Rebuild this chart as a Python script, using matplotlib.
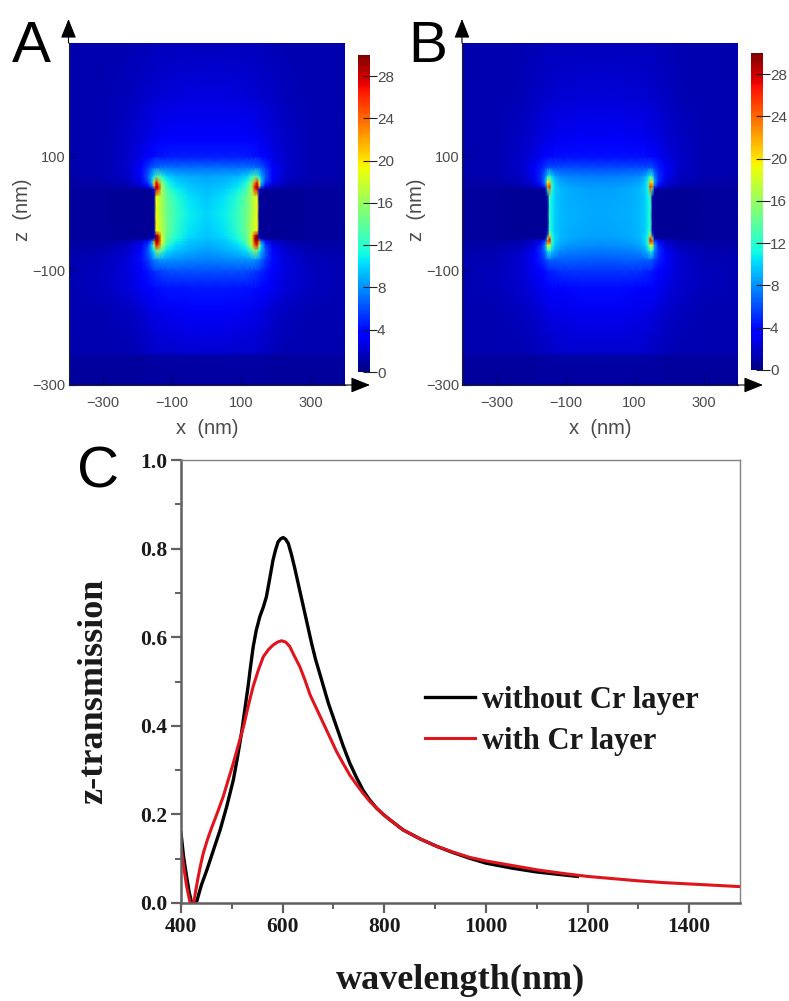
import numpy as np
import matplotlib
matplotlib.use("Agg")
import matplotlib.pyplot as plt
from matplotlib.patches import FancyArrowPatch

W, H = 789, 1001

# Field map nodes (half width in x; the maps are mirrored about x = 0)
x_half = [0, 50, 90, 115, 130, 140, 146, 152, 158, 170, 190, 230, 300, 400]
z_nodes = [300, 200, 130, 100, 80, 65, 55, 48, 43, 30, 0, -30, -38, -43, -48, -55, -65, -80,
           -100, -130, -170, -210, -243, -250, -300]

field_a = [
    [1.6, 1.6, 1.6, 1.6, 1.6, 1.6, 1.6, 1.6, 1.6, 1.5, 1.5, 1.4, 1.2, 1.2],
    [2.6, 2.6, 2.5, 2.4, 2.3, 2.3, 2.2, 2.2, 2.1, 2.0, 1.9, 1.6, 1.3, 1.2],
    [3.4, 3.4, 3.3, 3.3, 3.2, 3.2, 3.1, 3.0, 2.9, 2.7, 2.4, 1.9, 1.4, 1.2],
    [4.6, 4.6, 4.6, 4.5, 4.4, 4.3, 4.2, 4.0, 3.8, 3.4, 2.8, 1.9, 1.4, 1.2],
    [7.2, 7.2, 7.2, 7.3, 7.3, 7.3, 7.2, 7.0, 6.6, 5.5, 3.6, 2.0, 1.4, 1.2],
    [8.6, 8.8, 9.2, 10, 12, 14, 13, 11, 9, 6.5, 3.4, 1.8, 1.3, 1.1],
    [9.0, 9.3, 10, 11.5, 15, 23, 27, 20, 9.5, 5.2, 2.8, 1.6, 1.1, 1.0],
    [9.2, 9.6, 10.5, 12.5, 16.5, 27, 30, 22, 6.5, 3.5, 2.0, 1.3, 1.0, 1.0],
    [9.3, 9.8, 11, 13, 16.5, 26, 28, 4, 0.8, 0.7, 0.6, 0.7, 0.8, 0.9],
    [9.6, 10.4, 12, 14, 16.5, 18, 19, 1, 0.6, 0.6, 0.6, 0.7, 0.8, 0.9],
    [10, 10.8, 12.6, 14.5, 16.5, 18, 19, 0.8, 0.6, 0.6, 0.6, 0.7, 0.8, 0.9],
    [9.7, 10.5, 12.3, 14.5, 17, 18.5, 19.5, 1, 0.6, 0.6, 0.6, 0.7, 0.8, 0.9],
    [9.5, 10.2, 11.8, 14, 18, 27, 30, 2, 0.7, 0.6, 0.6, 0.7, 0.8, 0.9],
    [9.4, 10, 11.5, 13.8, 18.5, 29, 30, 4, 0.8, 0.7, 0.6, 0.7, 0.8, 0.9],
    [9.2, 9.7, 11, 13.4, 18.5, 28, 30, 24, 7, 4, 2.2, 1.4, 1.0, 1.0],
    [8.9, 9.3, 10.2, 12.2, 17, 25, 27, 17, 10, 5.5, 3.0, 1.7, 1.1, 1.0],
    [8.4, 8.8, 9.4, 10.4, 13, 15.5, 15, 11, 9, 6.4, 3.6, 2.0, 1.3, 1.1],
    [7.6, 7.8, 8, 8.2, 8.4, 8.4, 8.2, 7.8, 7, 5.6, 4, 2.4, 1.6, 1.3],
    [6.2, 6.2, 6.1, 6, 5.8, 5.6, 5.5, 5.2, 5, 4.4, 3.6, 2.4, 1.7, 1.3],
    [4.4, 4.4, 4.3, 4.3, 4.2, 4.1, 4, 3.9, 3.7, 3.4, 3, 2.3, 1.7, 1.3],
    [3.2, 3.2, 3.1, 3.0, 2.9, 2.8, 2.8, 2.7, 2.6, 2.4, 2.1, 1.7, 1.4, 1.3],
    [2.6, 2.6, 2.5, 2.4, 2.4, 2.3, 2.3, 2.2, 2.2, 2.0, 1.8, 1.5, 1.3, 1.2],
    [2.2, 2.2, 2.1, 2.1, 2.0, 2.0, 2.0, 1.9, 1.9, 1.8, 1.6, 1.4, 1.3, 1.2],
    [1.0, 1.0, 1.0, 1.0, 1.0, 1.0, 1.0, 1.0, 1.0, 1.0, 0.9, 0.9, 0.9, 0.9],
    [0.9, 0.9, 0.9, 0.9, 0.9, 0.9, 0.9, 0.9, 0.9, 0.9, 0.8, 0.8, 0.8, 0.8],
]

field_b = [
    [1.6, 1.6, 1.6, 1.6, 1.6, 1.6, 1.6, 1.6, 1.6, 1.5, 1.5, 1.4, 1.2, 1.2],
    [2.4, 2.4, 2.3, 2.3, 2.2, 2.2, 2.1, 2.1, 2.0, 1.9, 1.8, 1.5, 1.3, 1.2],
    [3.2, 3.2, 3.1, 3.1, 3.0, 2.9, 2.9, 2.8, 2.7, 2.5, 2.2, 1.8, 1.4, 1.2],
    [4.2, 4.2, 4.2, 4.1, 4.0, 3.9, 3.8, 3.7, 3.5, 3.1, 2.6, 1.9, 1.4, 1.2],
    [6.0, 6.0, 6.1, 6.1, 6.2, 6.3, 6.4, 6.2, 5.6, 4.6, 3.2, 1.9, 1.4, 1.2],
    [7.4, 7.5, 7.7, 7.9, 8.8, 10.5, 13, 11, 7.8, 5.2, 3.0, 1.7, 1.3, 1.1],
    [8.0, 8.1, 8.3, 8.7, 9.5, 12, 21, 19, 8.5, 4.6, 2.5, 1.5, 1.1, 1.0],
    [8.3, 8.4, 8.6, 9.0, 9.8, 12.5, 26, 24, 6, 3.2, 1.9, 1.3, 1.0, 1.0],
    [8.5, 8.6, 8.8, 9.2, 10, 12, 24, 12, 0.8, 0.7, 0.6, 0.7, 0.8, 0.9],
    [8.6, 8.7, 8.9, 9.2, 9.8, 11, 13, 1.5, 0.6, 0.6, 0.6, 0.7, 0.8, 0.9],
    [8.7, 8.8, 9.0, 9.3, 9.8, 10.8, 12.5, 1, 0.6, 0.6, 0.6, 0.7, 0.8, 0.9],
    [8.6, 8.7, 8.9, 9.2, 9.8, 11, 13, 1.5, 0.6, 0.6, 0.6, 0.7, 0.8, 0.9],
    [8.5, 8.6, 8.8, 9.2, 10, 12, 20, 6, 0.7, 0.6, 0.6, 0.7, 0.8, 0.9],
    [8.4, 8.5, 8.7, 9.1, 10, 12.5, 26, 14, 0.8, 0.7, 0.6, 0.7, 0.8, 0.9],
    [8.2, 8.3, 8.6, 9.0, 10, 13, 27, 25, 6, 3.2, 2.0, 1.3, 1.0, 1.0],
    [7.9, 8.0, 8.2, 8.6, 9.6, 12, 19, 18, 8.5, 4.6, 2.5, 1.5, 1.1, 1.0],
    [7.3, 7.4, 7.6, 7.9, 8.6, 10, 12.5, 11, 7.8, 5.2, 3.1, 1.8, 1.3, 1.1],
    [6.4, 6.5, 6.6, 6.6, 6.7, 6.8, 6.9, 6.5, 5.8, 4.8, 3.4, 2.2, 1.5, 1.3],
    [5.3, 5.3, 5.3, 5.2, 5.0, 4.8, 4.7, 4.5, 4.2, 3.7, 3.0, 2.2, 1.6, 1.3],
    [4.0, 4.0, 3.9, 3.8, 3.7, 3.6, 3.5, 3.4, 3.2, 3.0, 2.6, 2.0, 1.6, 1.3],
    [3.0, 3.0, 2.9, 2.8, 2.7, 2.7, 2.6, 2.6, 2.5, 2.3, 2.0, 1.7, 1.4, 1.3],
    [2.5, 2.5, 2.4, 2.3, 2.3, 2.2, 2.2, 2.1, 2.1, 1.9, 1.7, 1.5, 1.3, 1.2],
    [2.1, 2.1, 2.0, 2.0, 1.9, 1.9, 1.9, 1.8, 1.8, 1.7, 1.6, 1.4, 1.3, 1.2],
    [1.0, 1.0, 1.0, 1.0, 1.0, 1.0, 1.0, 1.0, 1.0, 1.0, 0.9, 0.9, 0.9, 0.9],
    [0.9, 0.9, 0.9, 0.9, 0.9, 0.9, 0.9, 0.9, 0.9, 0.9, 0.8, 0.8, 0.8, 0.8],
]

map_x_ticks = [-300, -100, 100, 300]
map_z_ticks = [-300, -100, 100]
cbar_ticks = [0, 4, 8, 12, 16, 20, 24, 28]

# Transmission spectra
wl_black = [400, 405, 411, 416, 421, 426, 431, 440, 451, 464, 477, 490, 503, 511, 519, 526, 532, 537, 542,
            548, 555, 562, 568, 575, 581, 586, 591, 596, 601, 606, 611, 617, 624, 632, 641,
            649, 657, 665, 674, 690, 706, 719, 732, 745, 758, 771, 785, 798, 811, 837, 870, 903, 935, 968,
            1000, 1050, 1100, 1140, 1180]
t_black = [0.158, 0.105, 0.06, 0.025, 0.0, 0.0, 0.004, 0.04, 0.075, 0.12, 0.165, 0.218, 0.278, 0.328,
           0.383, 0.44, 0.489, 0.535, 0.578, 0.615, 0.646, 0.668, 0.691, 0.735, 0.774, 0.797, 0.815,
           0.822, 0.825, 0.821, 0.812, 0.788, 0.755, 0.714, 0.668,
           0.627, 0.586, 0.549, 0.514, 0.451, 0.398, 0.355, 0.316, 0.284, 0.255, 0.233, 0.214, 0.2, 0.188,
           0.165, 0.145, 0.128, 0.114, 0.101, 0.09, 0.079, 0.07, 0.065, 0.06]
wl_red = [400, 405, 411, 418, 425, 429, 434, 439, 444, 452, 460, 472, 483, 493, 503, 513, 523, 532, 542, 552,
          562, 572, 581, 590, 598, 606, 614, 622, 634, 644, 654, 667, 680,
          693, 706, 719, 732, 745, 758, 771, 785, 798, 811, 837, 870, 903, 935, 968, 1000, 1050, 1100, 1150,
          1200, 1250, 1300, 1350, 1400, 1450, 1500]
t_red = [0.128, 0.085, 0.038, 0.0, 0.0, 0.028, 0.06, 0.088, 0.113, 0.143, 0.169, 0.205, 0.24, 0.278, 0.316,
         0.357, 0.398, 0.443, 0.489, 0.525, 0.556, 0.572, 0.582, 0.589, 0.592, 0.589, 0.579, 0.56, 0.533,
         0.503, 0.47, 0.438, 0.406,
         0.374, 0.342, 0.315, 0.289, 0.268, 0.248, 0.23, 0.214, 0.2, 0.188, 0.165, 0.145, 0.128, 0.115,
         0.103, 0.095, 0.085, 0.075, 0.067, 0.06, 0.055, 0.05, 0.046, 0.043, 0.04, 0.037]
spec_x_ticks = [400, 600, 800, 1000, 1200, 1400]
spec_y_ticks = [0.0, 0.2, 0.4, 0.6, 0.8, 1.0]

SERIF = "Liberation Serif"
SANS = "Liberation Sans"
GREY = "#4a4a4a"

fig = plt.figure(figsize=(W / 100, H / 100), dpi=100, facecolor="white")


def px_axes(l, t, r, b):
    return fig.add_axes([l / W, 1 - b / H, (r - l) / W, (b - t) / H])


def arrow(p0, p1):
    fig.add_artist(FancyArrowPatch(
        (p0[0] / W, 1 - p0[1] / H), (p1[0] / W, 1 - p1[1] / H), transform=fig.transFigure,
        arrowstyle="-|>,head_length=0.7,head_width=0.28", mutation_scale=17, color="black",
        lw=0.8, shrinkA=0, shrinkB=0))


def draw_map(field, l, r, top, bot, cl, cr, ct, cb, letter, lx):
    ax = px_axes(l, top, r, bot)
    half = np.array(field, dtype=float)
    xs = np.array(x_half, dtype=float)
    x_full = np.concatenate([-xs[:0:-1], xs])
    vals = np.hstack([half[:, :0:-1], half])
    mesh = ax.pcolormesh(x_full, np.array(z_nodes, dtype=float), vals, cmap="jet",
                         vmin=0, vmax=30, shading="gouraud")
    ax.set_xlim(-400, 400)
    ax.set_ylim(-300, 300)
    ax.set_xticks(map_x_ticks)
    ax.set_yticks(map_z_ticks)
    ax.set_xticklabels([f"\u2212{abs(v)}" if v < 0 else str(v) for v in map_x_ticks])
    ax.set_yticklabels([f"\u2212{abs(v)}" if v < 0 else str(v) for v in map_z_ticks])
    ax.tick_params(direction="in", length=6, width=0.8, color="#00006e", labelcolor=GREY,
                   labelsize=10.5, pad=2)
    ax.tick_params(axis="x", pad=8)
    for lab in ax.get_xticklabels() + ax.get_yticklabels():
        lab.set_family(SANS)
    ax.set_xlabel("x  (nm)", family=SANS, fontsize=14.5, color=GREY)
    ax.set_ylabel("z  (nm)", family=SANS, fontsize=14.5, color=GREY)
    ax.xaxis.set_label_coords(0.5, -(428 - bot) / (bot - top), transform=ax.transAxes)
    ax.xaxis.label.set_va("center")
    ax.yaxis.set_label_coords(-46 / (r - l), (bot - 210) / (bot - top), transform=ax.transAxes)
    ax.yaxis.label.set_va("center")
    for name, sp in ax.spines.items():
        sp.set_visible(name in ("left", "bottom"))
        sp.set_color("#202020")
        sp.set_linewidth(0.8)

    arrow((l, top), (l, top - 24))
    arrow((r, bot), (r + 25, bot))

    cax = px_axes(cl, ct, cr, cb)
    cbar = fig.colorbar(mesh, cax=cax, ticks=cbar_ticks)
    cbar.outline.set_visible(False)
    cbar.ax.tick_params(length=10, width=0.8, color="#202020", labelcolor=GREY, labelsize=11,
                        pad=0, direction="inout")
    for lab in cax.get_yticklabels():
        lab.set_family(SANS)
    fig.text(lx / W, 1 - 62 / H, letter, family=SANS, fontsize=42, color="black",
             ha="left", va="baseline")


draw_map(field_a, 68.5, 345, 43, 385, 358, 370, 55, 372, "A", 12)
draw_map(field_b, 462, 738, 43, 385, 751, 763, 53, 370, "B", 408)

ax = px_axes(181, 460, 740, 903)
line_black, = ax.plot(wl_black, t_black, color="black", lw=2.4, label="without Cr layer",
                      solid_joinstyle="round")
line_red, = ax.plot(wl_red, t_red, color="#e0141c", lw=2.2, label="with Cr layer",
                    solid_joinstyle="round")
ax.set_xlim(400, 1500)
ax.set_ylim(0, 1)
ax.set_xticks(spec_x_ticks)
ax.set_yticks(spec_y_ticks)
ax.set_xticks([500, 700, 900, 1100, 1300], minor=True)
ax.set_yticks([0.1, 0.3, 0.5, 0.7, 0.9], minor=True)
ax.tick_params(which="major", direction="out", length=7, width=1.6, color="#606060", pad=3)
ax.tick_params(which="minor", direction="out", length=4, width=1.4, color="#606060")
ax.set_xticklabels([str(v) for v in spec_x_ticks], family=SERIF, weight="bold", fontsize=15.5, color="#1a1a1a")
ax.set_yticklabels([f"{v:.1f}" for v in spec_y_ticks], family=SERIF, weight="bold", fontsize=15.5, color="#1a1a1a")
for name in ("left", "bottom"):
    ax.spines[name].set_color("#606060")
    ax.spines[name].set_linewidth(1.8)
for name in ("top", "right"):
    ax.spines[name].set_color("#808080")
    ax.spines[name].set_linewidth(1.0)
ax.set_xlabel("wavelength(nm)", family=SERIF, weight="bold", fontsize=26, color="#1a1a1a")
ax.set_ylabel("z-transmission", family=SERIF, weight="bold", fontsize=26, color="#1a1a1a")
ax.xaxis.set_label_coords((461 - 181) / 559, -(980 - 903) / 443, transform=ax.transAxes)
ax.xaxis.label.set_va("center")
ax.yaxis.set_label_coords(-(181 - 94) / 559, (903 - 691) / 443, transform=ax.transAxes)
ax.yaxis.label.set_va("center")
leg = ax.legend(handles=[line_black, line_red], frameon=False, loc="upper left",
                bbox_to_anchor=((425 - 181) / 559, (903 - 686) / 443), handlelength=1.63,
                handletextpad=0.23, labelspacing=0.38, borderaxespad=0, borderpad=0,
                prop={"family": SERIF, "weight": "bold", "size": 22})
for t in leg.get_texts():
    t.set_color("#1a1a1a")
fig.text(77 / W, 1 - 487 / H, "C", family=SANS, fontsize=42, color="black", ha="left", va="baseline")

fig.savefig("out.png", dpi=100)
